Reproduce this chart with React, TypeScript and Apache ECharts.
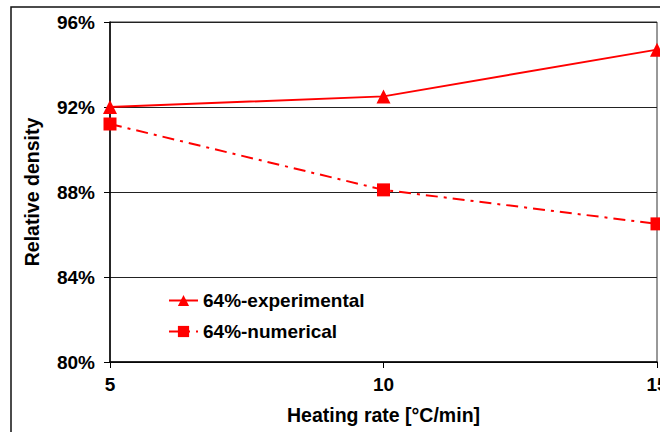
import React, { useEffect, useRef } from "react";
import * as echarts from "echarts";

const heatingRates = [5, 10, 15];
const experimental = [92.0, 92.5, 94.7];
const numerical = [91.2, 88.1, 86.5];
const yTicks = [80, 84, 88, 92, 96];

export default function App() {
  const ref = useRef<HTMLDivElement>(null);
  useEffect(() => {
    document.body.style.margin = "0";
    const chart = echarts.init(ref.current!, null, { renderer: "svg" });
    const font = "Arial, 'Liberation Sans', sans-serif";
    chart.setOption({
      animation: false,
      grid: {
        left: 110,
        top: 22,
        width: 547,
        height: 340,
        show: true,
        borderColor: "#333",
        borderWidth: 1,
        containLabel: false,
        outerBoundsMode: "none",
      },
      graphic: [
        {
          type: "rect",
          shape: { x: 11, y: 7, width: 720, height: 500 },
          style: { fill: "none", stroke: "#111", lineWidth: 1.5 },
          silent: true,
        },
      ],
      xAxis: {
        type: "value",
        min: 5,
        max: 15,
        interval: 5,
        name: "Heating rate [°C/min]",
        nameLocation: "middle",
        nameGap: 43,
        nameTextStyle: { fontFamily: font, fontWeight: "bold", fontSize: 19.5, color: "#000" },
        axisLine: { lineStyle: { color: "#000", width: 1.5 } },
        axisTick: { show: true, length: 6, lineStyle: { color: "#000" } },
        axisLabel: { fontFamily: font, fontWeight: "bold", fontSize: 19, color: "#000", margin: 13 },
        splitLine: { show: false },
      },
      yAxis: {
        type: "value",
        min: 80,
        max: 96,
        interval: 4,
        name: "Relative density",
        nameLocation: "middle",
        nameGap: 68,
        nameTextStyle: { fontFamily: font, fontWeight: "bold", fontSize: 19.5, color: "#000" },
        axisLine: { show: true, lineStyle: { color: "#000", width: 1.5 } },
        axisTick: { show: true, length: 6, lineStyle: { color: "#000" } },
        axisLabel: {
          fontFamily: font,
          fontWeight: "bold",
          fontSize: 19,
          color: "#000",
          margin: 15,
          formatter: (v: number) => (yTicks.includes(v) ? `${v}%` : ""),
        },
        splitLine: { show: true, lineStyle: { color: "#222", width: 1 } },
      },
      legend: {
        orient: "vertical",
        left: 168,
        top: 291,
        padding: 0,
        itemGap: 12,
        itemWidth: 29,
        itemHeight: 14,
        textStyle: { fontFamily: font, fontWeight: "bold", fontSize: 19, color: "#000" },
        data: ["64%-experimental", "64%-numerical"],
      },
      series: [
        {
          name: "64%-experimental",
          type: "line",
          data: heatingRates.map((x, i) => [x, experimental[i]]),
          symbol: "triangle",
          symbolSize: 14,
          lineStyle: { color: "#ff0000", width: 2 },
          itemStyle: { color: "#ff0000" },
        },
        {
          name: "64%-numerical",
          type: "line",
          data: heatingRates.map((x, i) => [x, numerical[i]]),
          symbol: "rect",
          symbolSize: 13,
          lineStyle: { color: "#ff0000", width: 2, type: [12, 6, 3, 6] },
          itemStyle: { color: "#ff0000" },
        },
      ],
    });
    return () => chart.dispose();
  }, []);
  return <div ref={ref} style={{ width: 660, height: 432, overflow: "hidden" }} />;
}
